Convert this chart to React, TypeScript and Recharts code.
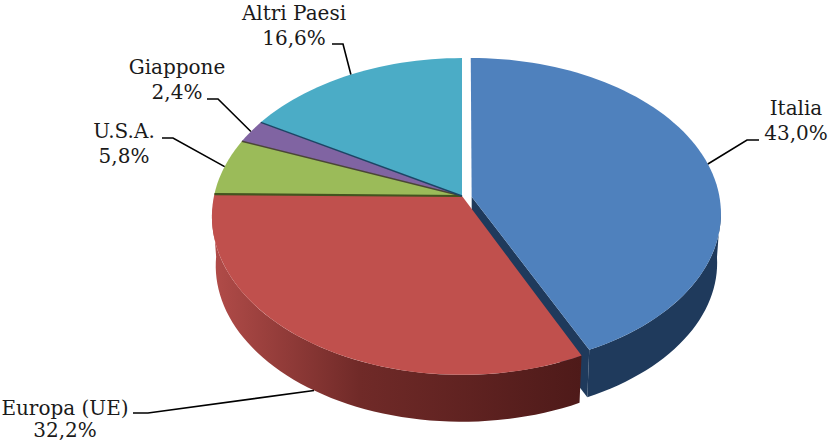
import { Pie, PieChart } from 'recharts';

const categories = ['Italia', 'Europa (UE)', 'U.S.A.', 'Giappone', 'Altri Paesi'];
const shares = [43.0, 32.2, 5.8, 2.4, 16.6];

const topColors = ['#4f81bd', '#c0504d', '#9bbb59', '#8064a2', '#4bacc6'];
const edgeColors = ['#1f3a5c', '#632523', '#43541f', '#4a4636', '#1c4565'];
const wallStops = [
    ['#1f3a5c', '#1f3a5c', '#1f3a5c'],
    ['#b24c49', '#702a28', '#4e1a19'],
];

// elbow and end of each leader line, then the centre of its two text rows
const elbowPoints = [[747, 140], [148, 413], [173, 138], [218, 99], [343, 44]];
const linePoints = [[759, 140], [133, 413], [162, 138], [207, 99], [332, 44]];
const labelCentres = [[796, 115], [65, 415], [124, 138], [177, 74], [294, 20]];
const labelRowGap = [25, 22, 25, 25, 25];

const FONT = '"DejaVu Serif", serif';
const PIE_X = 462;
const PIE_Y = 196;
const RADIUS = 248;
const SQUASH = 0.628;
const PERSPECTIVE = 0.129;
const DEPTH = 50;
const BOTTOM_SCALE = 0.985;
const EXPLODE = 0.04;
// the pulled out slice sits a little flatter than the rest of the disc
const EXPLODED_SQUASH = 0.619;
const EXPLODED_PERSPECTIVE = 0.105;
const EXPLODED_DROP = 2;

const chartData = categories.map((name, index) => ({ name, value: shares[index] }));

// clockwise degrees from the top of the disc -> page position
function project(cx: number, cy: number, r: number, theta: number, explode: number, bottom = false, radial = 1) {
    const rad = (theta * Math.PI) / 180;
    const shiftRad = (77.4 * Math.PI) / 180;
    const scale = radial * (bottom ? BOTTOM_SCALE : 1);
    const u = Math.sin(rad) * scale + explode * Math.sin(shiftRad);
    const v = Math.cos(rad) * scale + explode * Math.cos(shiftRad);
    const w = 1 + (explode > 0 ? EXPLODED_PERSPECTIVE : PERSPECTIVE) * v;
    const squash = explode > 0 ? EXPLODED_SQUASH : SQUASH;
    const drop = (explode > 0 ? EXPLODED_DROP : 0) + (bottom ? DEPTH : 0);
    return [cx + (r * u) / w, cy - (r * squash * v) / w + drop];
}

function arcPoints(cx: number, cy: number, r: number, from: number, to: number, explode: number, bottom = false) {
    const steps = Math.max(2, Math.ceil(Math.abs(to - from) / 2));
    const points: number[][] = [];
    for (let i = 0; i <= steps; i++) {
        points.push(project(cx, cy, r, from + ((to - from) * i) / steps, explode, bottom));
    }
    return points;
}

function toPath(points: number[][]) {
    return `M${points.map((p) => `${p[0].toFixed(2)},${p[1].toFixed(2)}`).join('L')}Z`;
}

function Slice3D(props: any) {
    const { cx, cy, outerRadius, startAngle, endAngle, index } = props;
    const from = 90 - startAngle;
    const to = 90 - endAngle;
    const explode = index === 0 ? EXPLODE : 0;
    const apex = project(cx, cy, outerRadius, 0, explode, false, 0);
    const wallFrom = Math.max(from, 94);
    const wallTo = Math.min(to, 266);
    const hasWall = wallTo > wallFrom;
    const gradientId = `wall-${index}`;
    const stops = wallStops[index];

    const topArc = arcPoints(cx, cy, outerRadius, from, to, explode);

    let wall = null;
    if (hasWall && stops) {
        const upper = arcPoints(cx, cy, outerRadius, wallFrom, wallTo, explode);
        const lower = arcPoints(cx, cy, outerRadius, wallFrom, wallTo, explode, true);
        const xs = upper.map((p) => p[0]);
        const cutCorner = project(cx, cy, outerRadius, to, explode);
        const cutBottom = project(cx, cy, outerRadius, to, explode, true);
        wall = (
            <>
                <defs>
                    <linearGradient
                        id={gradientId}
                        gradientUnits="userSpaceOnUse"
                        x1={Math.min(...xs)}
                        x2={Math.max(...xs)}
                        y1={0}
                        y2={0}
                    >
                        <stop offset="0%" stopColor={stops[0]} />
                        <stop offset="40%" stopColor={stops[1]} />
                        <stop offset="100%" stopColor={stops[2]} />
                    </linearGradient>
                </defs>
                {explode > 0 && (
                    <path
                        d={toPath([apex, cutCorner, cutBottom, [apex[0], apex[1] + DEPTH]])}
                        fill={edgeColors[index]}
                    />
                )}
                <path d={toPath([...upper, ...lower.reverse()])} fill={`url(#${gradientId})`} />
            </>
        );
    }

    return (
        <g>
            {wall}
            <path d={toPath([apex, ...topArc])} fill={topColors[index]} />
            {!hasWall && (
                <line
                    x1={apex[0]}
                    y1={apex[1]}
                    x2={topArc[0][0]}
                    y2={topArc[0][1]}
                    stroke={edgeColors[index]}
                    strokeWidth={index === 2 ? 2.2 : 1.5}
                />
            )}
        </g>
    );
}

function renderLabel(props: any) {
    const { index, midAngle } = props;
    const theta = 90 - midAngle;
    const explode = index === 0 ? EXPLODE : 0;
    const rim = project(PIE_X, PIE_Y, RADIUS, theta, explode, index === 1);
    const [textX, textY] = labelCentres[index];
    const percent = `${shares[index].toFixed(1).replace('.', ',')}%`;
    return (
        <g key={categories[index]}>
            <polyline
                points={`${rim[0]},${rim[1]} ${elbowPoints[index].join(',')} ${linePoints[index].join(',')}`}
                fill="none"
                stroke="#000000"
                strokeWidth={1.6}
            />
            <text x={textX} y={textY} textAnchor="middle" fontFamily={FONT} fontSize={20} fill="#1a1a1a">
                {categories[index]}
            </text>
            <text
                x={textX}
                y={textY + labelRowGap[index]}
                textAnchor="middle"
                fontFamily={FONT}
                fontSize={20}
                fill="#1a1a1a"
            >
                {percent}
            </text>
        </g>
    );
}

export default function App() {
    return (
        <div style={{ position: 'absolute', left: 0, top: 0, width: 832, height: 441, background: '#ffffff' }}>
            <PieChart width={832} height={441} margin={{ top: 0, right: 0, bottom: 0, left: 0 }}>
                <Pie
                    data={chartData}
                    dataKey="value"
                    nameKey="name"
                    cx={PIE_X}
                    cy={PIE_Y}
                    innerRadius={0}
                    outerRadius={RADIUS}
                    startAngle={90}
                    endAngle={-270}
                    stroke="none"
                    shape={Slice3D}
                    label={renderLabel}
                    labelLine={false}
                    isAnimationActive={false}
                />
            </PieChart>
        </div>
    );
}
